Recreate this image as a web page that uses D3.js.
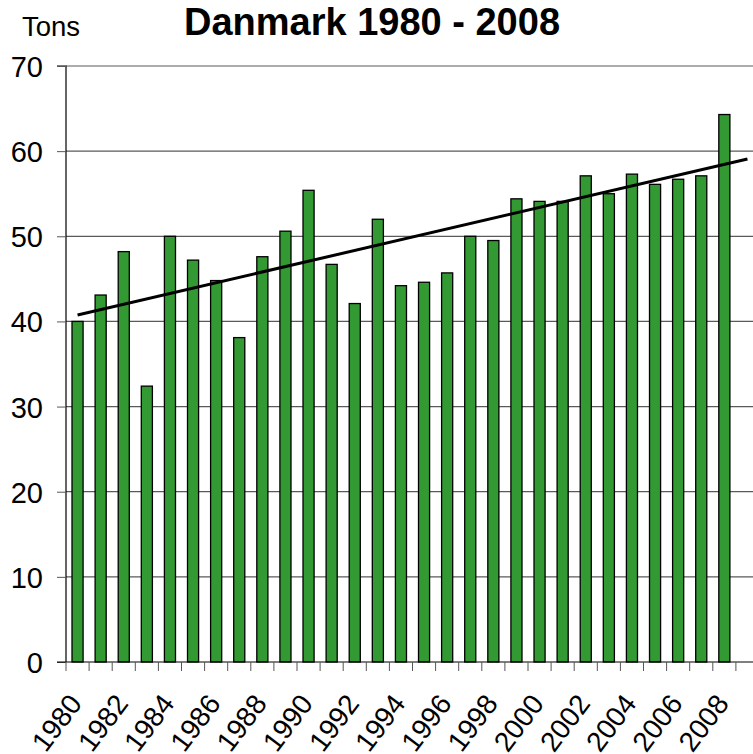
<!DOCTYPE html>
<html>
<head>
<meta charset="utf-8">
<script src="https://cdn.jsdelivr.net/npm/d3@7"></script>
<style>
  body { margin: 0; background: #fff; }
  text { font-family: "Liberation Sans", Arial, sans-serif; fill: #000; }
</style>
</head>
<body>
<div id="chart"></div>
<script>
// data (tons per year)
var years = d3.range(1980, 2010);   // 2009 is an empty slot, the trend runs into it
var tons = [40.0, 43.1, 48.2, 32.4, 50.0, 47.2, 44.8, 38.1, 47.6, 50.6,
            55.4, 46.7, 42.1, 52.0, 44.2, 44.6, 45.7, 50.0, 49.5, 54.4,
            54.1, 54.1, 57.1, 55.0, 57.3, 56.1, 56.7, 57.1, 64.3];
var yTicks = [0, 10, 20, 30, 40, 50, 60, 70];
var xLabels = d3.range(1980, 2009, 2);

var data = tons.map((v, i) => ({ year: years[i], value: v }));

var svgWidth = 753, svgHeight = 754;
var margin = { top: 66, left: 66 };
var plotRight = 759, plotBottom = 662;

var svg = d3.select("#chart").append("svg")
  .attr("width", svgWidth)
  .attr("height", svgHeight);

var x = d3.scaleBand()
  .domain(years)
  .range([margin.left, plotRight])
  .paddingInner(0.52)
  .paddingOuter(0.26);

var y = d3.scaleLinear()
  .domain([0, 70])
  .range([plotBottom, margin.top]);

// gridlines
svg.append("g").selectAll("line")
  .data(yTicks.filter(d => d > 0))
  .enter().append("line")
  .attr("x1", margin.left).attr("x2", svgWidth)
  .attr("y1", d => y(d)).attr("y2", d => y(d))
  .attr("stroke", "#5a5a5a")
  .attr("stroke-width", 1.2);

// bars
svg.append("g").selectAll("rect")
  .data(data)
  .enter().append("rect")
  .attr("x", d => x(d.year))
  .attr("y", d => y(d.value))
  .attr("width", x.bandwidth())
  .attr("height", d => y(0) - y(d.value))
  .attr("fill", "#339933")
  .attr("stroke", "#000")
  .attr("stroke-width", 1.3);

// linear trend, least squares on the data, one period forward
var n = data.length;
var mx = d3.mean(data, (d, i) => i), my = d3.mean(data, d => d.value);
var slope = d3.sum(data, (d, i) => (i - mx) * (d.value - my)) /
            d3.sum(data, (d, i) => (i - mx) * (i - mx));
var trend = [0, n].map(i => ({ year: years[i], value: my + slope * (i - mx) }));

svg.append("path")
  .datum(trend)
  .attr("d", d3.line()
    .x(d => x(d.year) + x.bandwidth() / 2)
    .y(d => y(d.value)))
  .attr("fill", "none")
  .attr("stroke", "#000")
  .attr("stroke-width", 3);

// y axis
var leftAxis = d3.axisLeft(y).tickValues(yTicks).tickSize(9).tickPadding(14);
var gy = svg.append("g")
  .attr("transform", `translate(${margin.left},0)`)
  .call(leftAxis);
gy.select(".domain").attr("stroke", "#000").attr("stroke-width", 1.2)
  .attr("d", `M-9,${y(70)}H0V${plotBottom}`);
gy.selectAll(".tick line").attr("stroke", "#555");
gy.selectAll("text").style("font-size", "29px").attr("dy", "0.36em");

// x axis: ticks on band edges
var gx = svg.append("g");
gx.append("line")
  .attr("x1", margin.left - 9).attr("x2", svgWidth)
  .attr("y1", plotBottom).attr("y2", plotBottom)
  .attr("stroke", "#000").attr("stroke-width", 1.2);
var step = x.step();
gx.selectAll(".xt")
  .data(years.concat([2010]))
  .enter().append("line")
  .attr("class", "xt")
  .attr("x1", (d, i) => margin.left + i * step)
  .attr("x2", (d, i) => margin.left + i * step)
  .attr("y1", plotBottom).attr("y2", plotBottom + 9)
  .attr("stroke", "#555");

gx.selectAll(".xl")
  .data(xLabels)
  .enter().append("text")
  .attr("class", "xl")
  .attr("text-anchor", "end")
  .attr("transform", d => `translate(${x(d) + x.bandwidth() / 2 - 10},${plotBottom + 30}) rotate(-53)`)
  .attr("dy", "0.7em")
  .style("font-size", "28px")
  .text(d => d);

// titles
svg.append("text")
  .attr("x", 372).attr("y", 35)
  .attr("text-anchor", "middle")
  .style("font-size", "38px")
  .style("font-weight", "bold")
  .text("Danmark 1980 - 2008");

svg.append("text")
  .attr("x", 22).attr("y", 36)
  .style("font-size", "27.5px")
  .text("Tons");
</script>
</body>
</html>
